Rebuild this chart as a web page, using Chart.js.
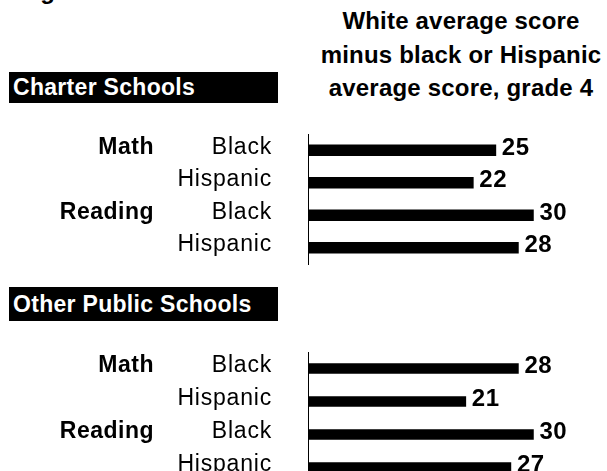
<!DOCTYPE html>
<html>
<head>
<meta charset="utf-8">
<script src="https://cdn.jsdelivr.net/npm/chart.js@4.4.1/dist/chart.umd.min.js"></script>
<style>
    html, body { margin: 0; padding: 0; background: #fff; }
    body { width: 607px; height: 471px; position: relative; overflow: hidden; font-family: Arial, "Liberation Sans", sans-serif; }
    .fig { position: absolute; left: 19px; top: -21px; font-size: 24px; line-height: 24px; font-weight: bold; color: #000; }
    .title { position: absolute; left: 300px; top: 4px; width: 322px; text-align: center; font-size: 24px; line-height: 33.5px; font-weight: bold; color: #000; letter-spacing: 0.2px; }
    .box { position: absolute; left: 9px; width: 269px; background: #000; color: #fff; font-size: 23px; font-weight: bold; padding-left: 4px; box-sizing: border-box; letter-spacing: 0.3px; }
    .chartWrap { position: absolute; left: 0; width: 607px; height: 150px; }
</style>
</head>
<body>
<div class="fig">Figure</div>
<div class="title">White average score<br>minus black or Hispanic<br>average score, grade 4</div>

<div class="box" style="top:72px;height:31px;line-height:31px;">Charter Schools</div>
<div class="chartWrap" style="top:125px;"><canvas id="charterChart"></canvas></div>

<div class="box" style="top:287px;height:34px;line-height:34px;">Other Public Schools</div>
<div class="chartWrap" style="top:340px;"><canvas id="publicChart"></canvas></div>

<script>
    // rows of each panel
    const groups = ['Black', 'Hispanic', 'Black', 'Hispanic'];
    const subjects = ['Math', '', 'Reading', ''];

    // score gaps (white minus black/hispanic), grade 4
    const charterGaps = [25, 22, 30, 28];
    const publicGaps = [28, 21, 30, 27];

    // draws the subject names and the numbers at the bar ends
    const labelPlugin = {
        id: 'gapLabels',
        beforeDraw(chart) {
            // the source text is set a little loose
            chart.ctx.letterSpacing = '0.8px';
        },
        afterDatasetsDraw(chart) {
            const ctx = chart.ctx;
            const yScale = chart.scales.y;
            const bars = chart.getDatasetMeta(0).data;
            const values = chart.data.datasets[0].data;

            ctx.save();
            ctx.fillStyle = '#000';
            ctx.textBaseline = 'middle';

            ctx.letterSpacing = '0.5px';
            ctx.font = 'bold 24px Arial, "Liberation Sans", sans-serif';
            ctx.textAlign = 'left';
            bars.forEach((bar, i) => {
                ctx.fillText(values[i], bar.x + 6, bar.y - 2);
            });

            ctx.font = 'bold 23px Arial, "Liberation Sans", sans-serif';
            ctx.textAlign = 'right';
            subjects.forEach((s, i) => {
                if (s) ctx.fillText(s, 154, yScale.getPixelForValue(i) - 3);
            });
            ctx.restore();
        }
    };

    function makeChart(id, values, thickness, padTop, padBottom) {
        const ctx = document.getElementById(id).getContext('2d');
        return new Chart(ctx, {
            type: 'bar',
            data: {
                labels: groups,
                datasets: [{
                    data: values,
                    backgroundColor: '#000',
                    borderWidth: 0,
                    barThickness: thickness,
                }]
            },
            options: {
                indexAxis: 'y',
                responsive: true,
                maintainAspectRatio: false,
                animation: false,
                layout: {
                    padding: { top: padTop, bottom: padBottom, right: 36, left: 0 },
                },
                plugins: {
                    legend: { display: false },
                    tooltip: { enabled: false },
                },
                scales: {
                    x: {
                        display: false,
                        min: 0,
                        max: 35,
                    },
                    y: {
                        grid: { display: false, drawTicks: false },
                        border: { display: true, color: '#000', width: 1 },
                        ticks: {
                            color: '#000',
                            padding: 36,
                            labelOffset: -3,
                            font: { family: 'Arial, "Liberation Sans", sans-serif', size: 23 },
                        },
                        afterFit(scale) {
                            // fixed axis position, no extra room above/below
                            scale.width = 308;
                            scale.paddingTop = 0;
                            scale.paddingBottom = 0;
                        },
                    },
                },
            },
            plugins: [labelPlugin],
        });
    }

    makeChart('charterChart', charterGaps, 11, 9, 11);
    makeChart('publicChart', publicGaps, 10, 12, 6);
</script>
</body>
</html>
